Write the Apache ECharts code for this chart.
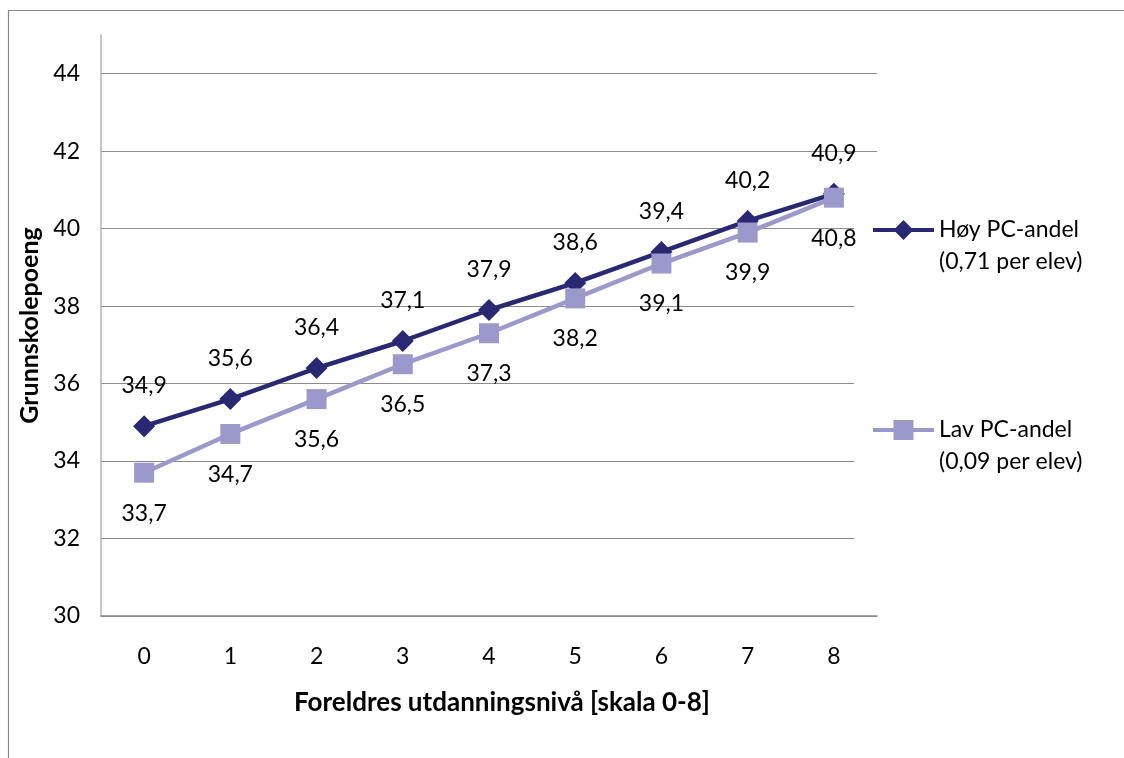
<!DOCTYPE html>
<html>
<head>
<meta charset="utf-8">
<script src="https://cdn.jsdelivr.net/npm/echarts@6/dist/echarts.min.js"></script>
<style>
html,body{margin:0;padding:0;background:#fff;}
#chart{width:1124px;height:758px;}
</style>
</head>
<body>
<div id="chart"></div>
<script>
const categories = ['0','1','2','3','4','5','6','7','8'];
const hoyValues = [34.9, 35.6, 36.4, 37.1, 37.9, 38.6, 39.4, 40.2, 40.9];
const lavValues = [33.7, 34.7, 35.6, 36.5, 37.3, 38.2, 39.1, 39.9, 40.8];
const seriesNames = ['Høy PC-andel\n(0,71 per elev)', 'Lav PC-andel\n(0,09 per elev)'];
const yTitle = 'Grunnskolepoeng';
const xTitle = 'Foreldres utdanningsnivå [skala 0-8]';

const FONT = 'Lato';
const fmt = p => p.value.toFixed(1).replace('.', ',');

const chart = echarts.init(document.getElementById('chart'), null, {renderer: 'canvas'});
chart.setOption({
  animation: false,
  backgroundColor: '#fff',
  textStyle: {fontFamily: FONT},
  grid: {left: 101, right: 247, top: 35, bottom: 142, containLabel: false},
  graphic: [
    {type: 'rect', z: -10, silent: true, shape: {x: 8.5, y: 10.5, width: 1300, height: 900},
     style: {fill: 'none', stroke: '#888', lineWidth: 1.2}},
    {type: 'rect', z: 1, silent: true, shape: {x: 854, y: 188, width: 250, height: 357},
     style: {fill: '#fff'}}
  ],
  legend: {
    orient: 'vertical',
    left: 866, top: 177,
    itemWidth: 61, itemHeight: 25, itemGap: 104,
    z: 5,
    data: seriesNames,
    formatter: name => ' \n' + name,
    lineStyle: {width: 4},
    textStyle: {fontFamily: FONT, fontSize: 23, color: '#000', lineHeight: 32}
  },
  xAxis: {
    type: 'category',
    data: categories,
    boundaryGap: true,
    name: xTitle,
    nameLocation: 'middle',
    nameGap: 74,
    nameTextStyle: {fontFamily: FONT, fontSize: 26, fontWeight: 'bold', color: '#000', padding: [0, 0, 0, 26]},
    axisLine: {lineStyle: {color: '#888', width: 1.5}},
    axisTick: {show: false},
    axisLabel: {fontFamily: FONT, fontSize: 23, color: '#000', margin: 29}
  },
  yAxis: {
    type: 'value',
    min: 30, max: 45, interval: 2,
    name: yTitle,
    nameLocation: 'middle',
    nameGap: 54,
    nameTextStyle: {fontFamily: FONT, fontSize: 25, fontWeight: 'bold', color: '#000'},
    axisLine: {show: true, lineStyle: {color: '#b5b5b5', width: 1.5}},
    axisTick: {show: false},
    axisLabel: {fontFamily: FONT, fontSize: 23, color: '#000', margin: 21,
      formatter: v => (v === 45 ? '' : String(v))},
    splitLine: {show: true, lineStyle: {color: ['#8c8c8c','#8c8c8c','#8c8c8c','#8c8c8c','#8c8c8c','#8c8c8c','#8c8c8c','#8c8c8c','rgba(0,0,0,0)'], width: 1}}
  },
  series: [
    {
      name: seriesNames[0], type: 'line', data: hoyValues, z: 3,
      symbol: 'diamond', symbolSize: 22,
      lineStyle: {color: '#282873', width: 4.5},
      itemStyle: {color: '#282873'},
      label: {show: true, position: 'top', distance: 18, formatter: fmt,
        fontFamily: FONT, fontSize: 23, color: '#000'}
    },
    {
      name: seriesNames[1], type: 'line', data: lavValues, z: 4,
      symbol: 'rect', symbolSize: 20,
      lineStyle: {color: '#9b99cc', width: 4.5},
      itemStyle: {color: '#9b99cc'},
      label: {show: true, position: 'bottom', distance: 19, formatter: fmt,
        fontFamily: FONT, fontSize: 23, color: '#000'}
    }
  ]
});
</script>
</body>
</html>
